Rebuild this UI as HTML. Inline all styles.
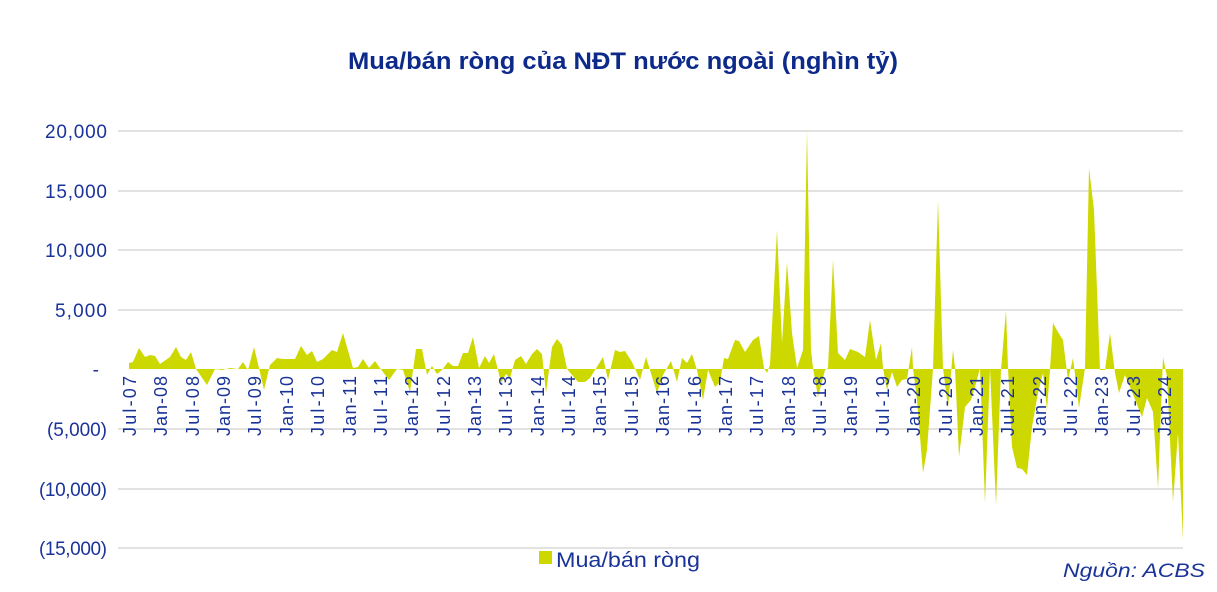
<!DOCTYPE html>
<html><head><meta charset="utf-8"><style>
body{margin:0;background:#fff;}
svg text{font-family:"Liberation Sans",sans-serif;}
</style></head><body>
<svg width="1217" height="587" viewBox="0 0 1217 587" xmlns="http://www.w3.org/2000/svg">
<rect width="1217" height="587" fill="#fff"/>
<text x="623" y="69" text-anchor="middle" font-size="24" font-weight="bold" fill="#0d2a8a" textLength="550" lengthAdjust="spacingAndGlyphs">Mua/bán ròng của NĐT nước ngoài (nghìn tỷ)</text>
<g stroke="#d9d9d9" stroke-width="1.5">
<line x1="118" y1="131" x2="1183" y2="131"/><line x1="118" y1="191" x2="1183" y2="191"/>
<line x1="118" y1="250" x2="1183" y2="250"/><line x1="118" y1="310" x2="1183" y2="310"/>
<line x1="118" y1="429" x2="1183" y2="429"/><line x1="118" y1="489" x2="1183" y2="489"/>
<line x1="118" y1="548" x2="1183" y2="548"/>
</g>
<g font-size="19" fill="#1a3399" text-anchor="end" lengthAdjust="spacingAndGlyphs">
<text x="107" y="138" textLength="62">20,000</text>
<text x="107" y="198" textLength="62">15,000</text>
<text x="107" y="257" textLength="62">10,000</text>
<text x="107" y="317" textLength="52">5,000</text>
<text x="99" y="376">-</text>
<text x="107" y="436" textLength="60">(5,000)</text>
<text x="107" y="496" textLength="68">(10,000)</text>
<text x="107" y="555" textLength="68">(15,000)</text>
</g>
<polygon fill="#cdd800" points="129,369 129,363 133,362 139,348 145,357 150,355 155,356 160,364 170,357 176,347 181,357 186,360 191,352 196,369 207,385 215,369 222,370 230,368 238,369 243,362 248,370 254,347 259,368 264,390 270,365 277,358 283,359 295,359 301,346 307,355 312,351 317,362 323,359 332,350 337,352 343,333 353,368 358,367 363,359 369,368 375,361 380,368 389,380 397,369 403,370 410,392 416,349 422,349 427,375 432,366 437,374 442,370 448,362 453,366 458,366 463,353 468,353 473,337 479,368 485,356 489,363 494,354 498,370 501,383 506,374 510,378 515,360 521,356 526,364 532,354 537,349 542,354 546,393 552,347 557,339 562,345 567,369 578,382 585,382 590,378 595,370 603,357 608,380 615,350 620,352 625,351 632,362 640,380 646,357 650,370 657,393 663,375 671,361 677,382 682,358 687,363 692,354 697,370 703,400 708,370 715,387 720,382 724,358 728,359 735,340 739,341 745,352 753,340 759,336 764,368 767,373 770,365 777,230 782,343 787,262 792,333 797,368 803,350 807,130 811,350 813,368 818,397 825,370 828,368 833,260 838,353 845,360 850,349 858,352 865,357 870,320 876,360 881,343 883,368 887,390 892,372 897,387 902,380 907,379 912,347 913,368 917,400 923,473 927,450 933,369 938,200 943,368 948,408 953,350 955,368 959,457 965,407 971,400 975,387 980,368 985,503 990,368 996,505 1001,370 1006,310 1008,368 1012,447 1017,468 1022,469 1027,475 1032,427 1038,393 1043,373 1047,410 1050,369 1053,323 1058,332 1063,340 1068,380 1073,358 1079,408 1085,368 1089,168 1094,210 1100,370 1105,370 1110,333 1115,373 1119,393 1125,375 1130,387 1136,402 1142,417 1147,398 1153,412 1158,488 1163,357 1167,377 1173,502 1178,433 1183,540 1183,369"/>
<g font-size="18" fill="#1a3399" text-anchor="end" lengthAdjust="spacingAndGlyphs">
<text transform="translate(136,376) rotate(-90)" textLength="60">Jul-07</text>
<text transform="translate(167,376) rotate(-90)" textLength="60">Jan-08</text>
<text transform="translate(199,376) rotate(-90)" textLength="60">Jul-08</text>
<text transform="translate(230,376) rotate(-90)" textLength="60">Jan-09</text>
<text transform="translate(261,376) rotate(-90)" textLength="60">Jul-09</text>
<text transform="translate(293,376) rotate(-90)" textLength="60">Jan-10</text>
<text transform="translate(324,376) rotate(-90)" textLength="60">Jul-10</text>
<text transform="translate(356,376) rotate(-90)" textLength="60">Jan-11</text>
<text transform="translate(387,376) rotate(-90)" textLength="60">Jul-11</text>
<text transform="translate(418,376) rotate(-90)" textLength="60">Jan-12</text>
<text transform="translate(450,376) rotate(-90)" textLength="60">Jul-12</text>
<text transform="translate(481,376) rotate(-90)" textLength="60">Jan-13</text>
<text transform="translate(512,376) rotate(-90)" textLength="60">Jul-13</text>
<text transform="translate(544,376) rotate(-90)" textLength="60">Jan-14</text>
<text transform="translate(575,376) rotate(-90)" textLength="60">Jul-14</text>
<text transform="translate(606,376) rotate(-90)" textLength="60">Jan-15</text>
<text transform="translate(638,376) rotate(-90)" textLength="60">Jul-15</text>
<text transform="translate(669,376) rotate(-90)" textLength="60">Jan-16</text>
<text transform="translate(701,376) rotate(-90)" textLength="60">Jul-16</text>
<text transform="translate(732,376) rotate(-90)" textLength="60">Jan-17</text>
<text transform="translate(763,376) rotate(-90)" textLength="60">Jul-17</text>
<text transform="translate(795,376) rotate(-90)" textLength="60">Jan-18</text>
<text transform="translate(826,376) rotate(-90)" textLength="60">Jul-18</text>
<text transform="translate(857,376) rotate(-90)" textLength="60">Jan-19</text>
<text transform="translate(889,376) rotate(-90)" textLength="60">Jul-19</text>
<text transform="translate(920,376) rotate(-90)" textLength="60">Jan-20</text>
<text transform="translate(952,376) rotate(-90)" textLength="60">Jul-20</text>
<text transform="translate(983,376) rotate(-90)" textLength="60">Jan-21</text>
<text transform="translate(1014,376) rotate(-90)" textLength="60">Jul-21</text>
<text transform="translate(1046,376) rotate(-90)" textLength="60">Jan-22</text>
<text transform="translate(1077,376) rotate(-90)" textLength="60">Jul-22</text>
<text transform="translate(1108,376) rotate(-90)" textLength="60">Jan-23</text>
<text transform="translate(1140,376) rotate(-90)" textLength="60">Jul-23</text>
<text transform="translate(1171,376) rotate(-90)" textLength="60">Jan-24</text>
</g>
<rect x="539" y="551" width="13" height="13" fill="#cdd800"/>
<text x="556" y="567" font-size="21" fill="#1a3399" textLength="144" lengthAdjust="spacingAndGlyphs">Mua/bán ròng</text>
<text x="1205" y="577" font-size="19" font-style="italic" fill="#1a3399" text-anchor="end" textLength="142" lengthAdjust="spacingAndGlyphs">Nguồn: ACBS</text>
</svg>
</body></html>
